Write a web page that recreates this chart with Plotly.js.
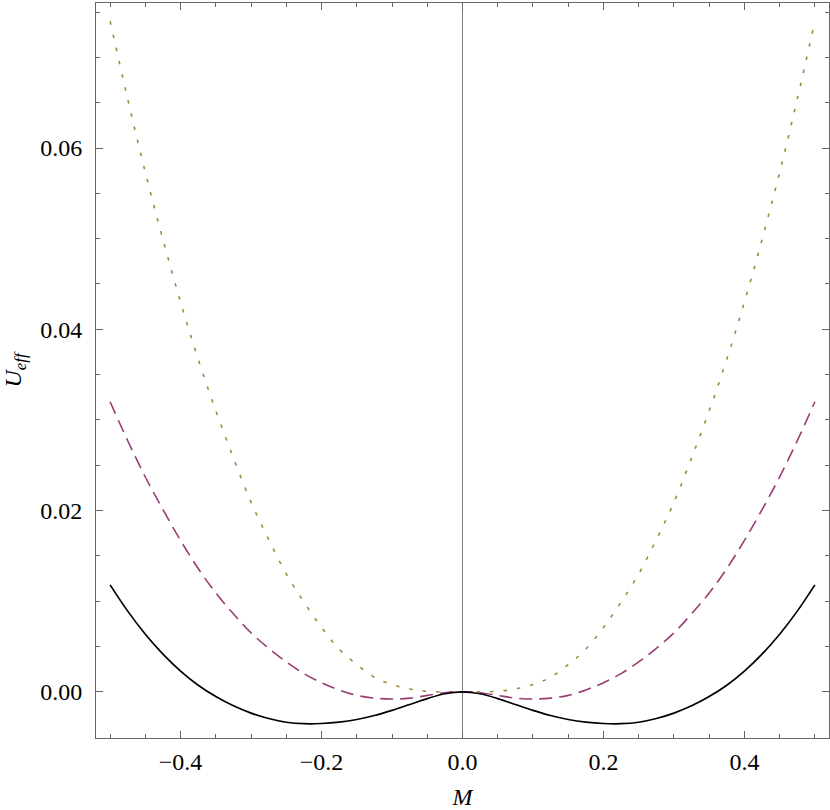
<!DOCTYPE html>
<html>
<head>
<meta charset="utf-8">
<script src="https://cdn.plot.ly/plotly-3.0.1.min.js"></script>
<style>html,body{margin:0;padding:0;background:#fff;}#chart{width:830px;height:810px;}</style>
</head>
<body>
<div id="chart"></div>
<script>
// Magnetization values M (x)
const M = [-0.5,-0.475,-0.45,-0.425,-0.4,-0.375,-0.35,-0.325,-0.3,-0.275,-0.25,-0.225,-0.2,-0.175,-0.15,-0.125,-0.1,-0.075,-0.05,-0.025,0,
           0.025,0.05,0.075,0.1,0.125,0.15,0.175,0.2,0.225,0.25,0.275,0.3,0.325,0.35,0.375,0.4,0.425,0.45,0.475,0.5];
// Solid black curve
const U_solid = [0.0118,0.0089,0.00635,0.00415,0.00228,0.00072,-0.00053,-0.00155,-0.00235,-0.00295,-0.00336,-0.00352,-0.0035,-0.00335,-0.00306,-0.00262,-0.00205,-0.0014,-0.00075,-0.00022,0,
                 -0.00022,-0.00075,-0.0014,-0.00205,-0.00262,-0.00306,-0.00335,-0.0035,-0.00352,-0.00336,-0.00295,-0.00235,-0.00155,-0.00053,0.00072,0.00228,0.00415,0.00635,0.0089,0.0118];
// Dashed purple curve
const U_dashed = [0.0320,0.0277,0.0237,0.0201,0.0167,0.0136,0.0109,0.0086,0.0065,0.0048,0.0033,0.0020,0.0010,0.0002,-0.0004,-0.0007,-0.0008,-0.0007,-0.0004,-0.0001,0,
                  -0.0001,-0.0004,-0.0007,-0.0008,-0.0007,-0.0004,0.0002,0.0010,0.0020,0.0033,0.0048,0.0065,0.0086,0.0109,0.0136,0.0167,0.0201,0.0237,0.0277,0.0320];
// Dotted olive curve
const U_dotted = [0.0740,0.0654,0.0573,0.0499,0.0430,0.0367,0.0310,0.0258,0.0209,0.0168,0.0130,0.0099,0.0071,0.0047,0.0030,0.0016,0.0008,0.0003,0.00005,0,0,
                  0,0.00005,0.0003,0.0008,0.0016,0.0030,0.0047,0.0071,0.0099,0.0130,0.0168,0.0209,0.0258,0.0310,0.0367,0.0430,0.0499,0.0573,0.0654,0.0740];
const xTickVals = [-0.4,-0.2,0,0.2,0.4];
const xTickText = ['\u22120.4','\u22120.2','0.0','0.2','0.4'];
const yTickVals = [0,0.02,0.04,0.06];
const yTickText = ['0.00','0.02','0.04','0.06'];

const serif = "'Liberation Serif', 'Times New Roman', serif";
const traces = [
  {x:M, y:U_dotted, mode:'lines', line:{color:'#998B3D', width:1.6, dash:'3.5px,10px', shape:'spline'}, hoverinfo:'skip'},
  {x:M, y:U_dashed, mode:'lines', line:{color:'#993D74', width:1.6, dash:'13px,7px', shape:'spline'}, hoverinfo:'skip'},
  {x:M, y:U_solid, mode:'lines', line:{color:'#000000', width:1.7, shape:'spline'}, hoverinfo:'skip'}
];
const axisCommon = {
  showline:true, linecolor:'#666', linewidth:1, mirror:'ticks', ticks:'inside', ticklen:7, tickcolor:'#666', tickwidth:1,
  showgrid:false, tickfont:{family:serif, size:24, color:'#000'}, automargin:false
};
const layout = {
  width:830, height:810,
  margin:{l:96, r:1, t:3, b:72},
  paper_bgcolor:'#fff', plot_bgcolor:'#fff',
  showlegend:false,
  xaxis: Object.assign({}, axisCommon, {
    range:[-0.52,0.52], tickmode:'array', tickvals:xTickVals, ticktext:xTickText,
    zeroline:true, zerolinecolor:'#808080', zerolinewidth:1.3,
    ticklabelstandoff:2,
    minor:{tick0:0, dtick:0.05, ticks:'inside', ticklen:4, tickcolor:'#666'},
    title:{text:'<i>M</i>', font:{family:serif, size:24, color:'#000'}, standoff:16}
  }),
  yaxis: Object.assign({}, axisCommon, {
    range:[-0.0051,0.0760], tickmode:'array', tickvals:yTickVals, ticktext:yTickText,
    zeroline:false,
    ticklabelstandoff:8,
    minor:{tick0:0, dtick:0.005, ticks:'inside', ticklen:4, tickcolor:'#666'},
    title:{text:'<i>U</i><sub><i>eff</i></sub>', font:{family:serif, size:24, color:'#000'}, standoff:14}
  })
};
Plotly.newPlot('chart', traces, layout, {displayModeBar:false, staticPlot:true});
</script>
</body>
</html>
